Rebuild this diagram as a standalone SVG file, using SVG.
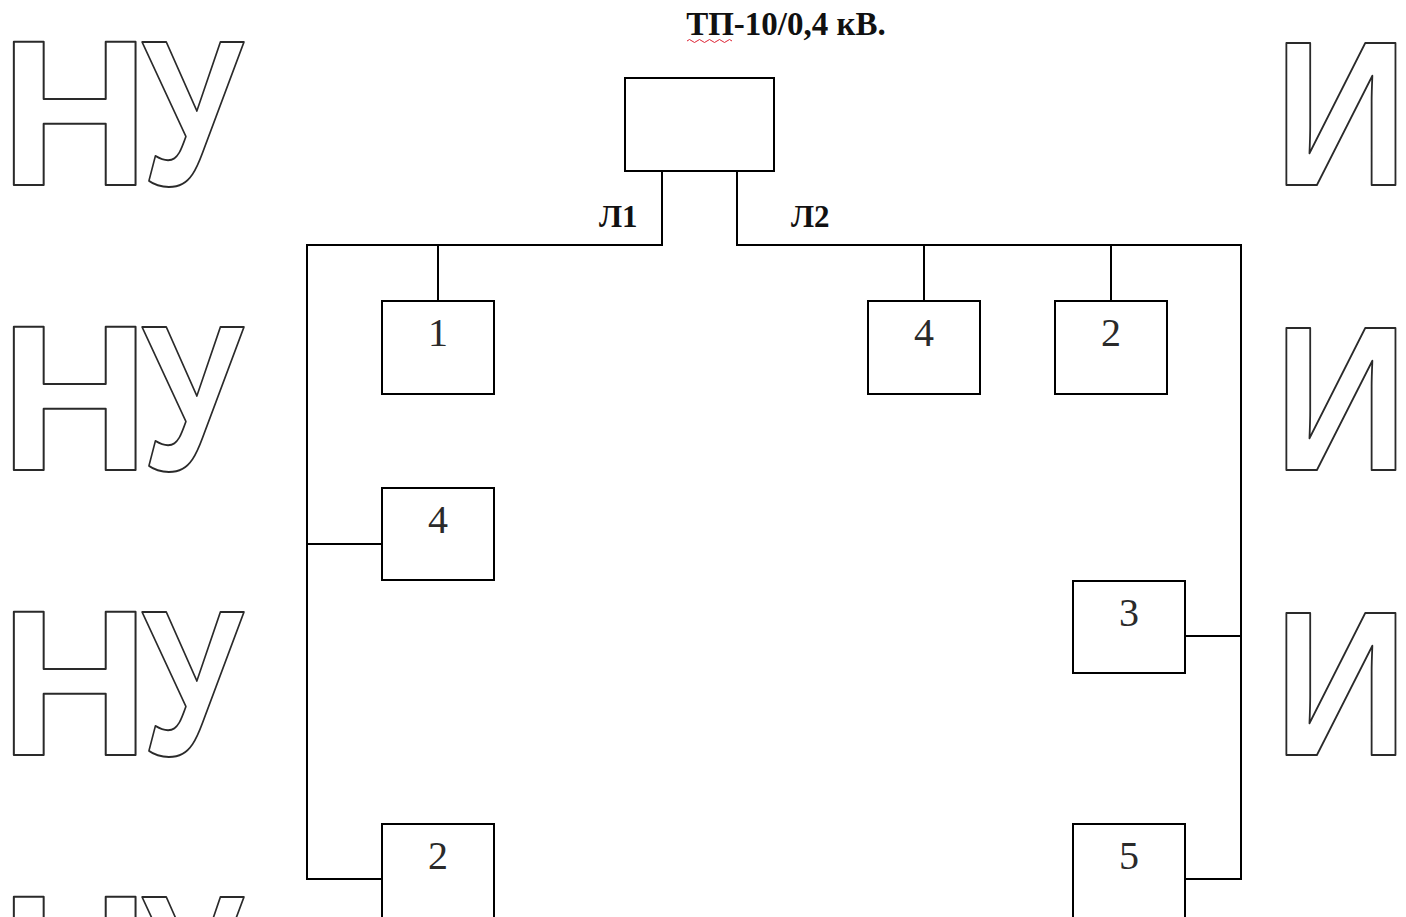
<svg xmlns="http://www.w3.org/2000/svg" width="1406" height="917" viewBox="0 0 1406 917">
  <style>
    .wm { font-family: "Liberation Sans", Arial, sans-serif; font-weight: bold; font-size: 207px; fill: none; stroke: #2a2a2a; stroke-width: 2; stroke-linejoin: round; }
    .box { fill: #fff; stroke: #000; stroke-width: 2; }
    .wire { fill: none; stroke: #000; stroke-width: 2; }
    .num { font-family: "Liberation Serif", "Times New Roman", serif; font-size: 40px; fill: #2a2a2a; text-anchor: middle; }
    .lbl { font-family: "Liberation Serif", "Times New Roman", serif; font-weight: bold; font-size: 31px; fill: #111; }
    .title { font-size: 33px; text-anchor: middle; }
  </style>
  <rect width="1406" height="917" fill="#fff"/>

  <!-- background lettering -->
  <g id="watermark">
    <g id="wm-left">
      <text class="wm" x="0" y="185">Н</text>
      <text class="wm" transform="translate(142,185) scale(0.78,1)">У</text>
      <text class="wm" x="0" y="470">Н</text>
      <text class="wm" transform="translate(142,470) scale(0.78,1)">У</text>
      <text class="wm" x="0" y="755">Н</text>
      <text class="wm" transform="translate(142,755) scale(0.78,1)">У</text>
      <text class="wm" x="0" y="1040">Н</text>
      <text class="wm" transform="translate(142,1040) scale(0.78,1)">У</text>
    </g>
    <g id="wm-right">
      <text class="wm" transform="translate(1274,185) scale(0.9,1)">И</text>
      <text class="wm" transform="translate(1274,470) scale(0.9,1)">И</text>
      <text class="wm" transform="translate(1274,755) scale(0.9,1)">И</text>
    </g>
  </g>

  <!-- title -->
  <g id="title">
    <text class="lbl title" x="786" y="35">ТП-10/0,4 кВ.</text>
    <path d="M687 41 q2.5 -3 5 0 t5 0 t5 0 t5 0 t5 0 t5 0 t5 0 t5 0 t5 0" fill="none" stroke="#d23" stroke-width="1"/>
  </g>

  <!-- connectors -->
  <g id="connectors">
    <path class="wire" d="M662 171 V245 H307 V879 H382"/>
    <path class="wire" d="M737 171 V245 H1241 V879 H1185"/>
    <path class="wire" d="M438 245 V301"/>
    <path class="wire" d="M307 544 H382"/>
    <path class="wire" d="M924 245 V301"/>
    <path class="wire" d="M1111 245 V301"/>
    <path class="wire" d="M1185 636 H1241"/>
    <text class="lbl" x="599" y="227">Л1</text>
    <text class="lbl" x="791" y="227">Л2</text>
  </g>

  <g id="tp">
    <rect class="box" x="625" y="78" width="149" height="93"/>
  </g>
  <g id="n1">
    <rect class="box" x="382" y="301" width="112" height="93"/>
    <text class="num" x="438" y="346">1</text>
  </g>
  <g id="n4-left">
    <rect class="box" x="382" y="488" width="112" height="92"/>
    <text class="num" x="438" y="533">4</text>
  </g>
  <g id="n2-left">
    <rect class="box" x="382" y="824" width="112" height="100"/>
    <text class="num" x="438" y="869">2</text>
  </g>
  <g id="n4-right">
    <rect class="box" x="868" y="301" width="112" height="93"/>
    <text class="num" x="924" y="346">4</text>
  </g>
  <g id="n2-right">
    <rect class="box" x="1055" y="301" width="112" height="93"/>
    <text class="num" x="1111" y="346">2</text>
  </g>
  <g id="n3">
    <rect class="box" x="1073" y="581" width="112" height="92"/>
    <text class="num" x="1129" y="626">3</text>
  </g>
  <g id="n5">
    <rect class="box" x="1073" y="824" width="112" height="100"/>
    <text class="num" x="1129" y="869">5</text>
  </g>
</svg>
